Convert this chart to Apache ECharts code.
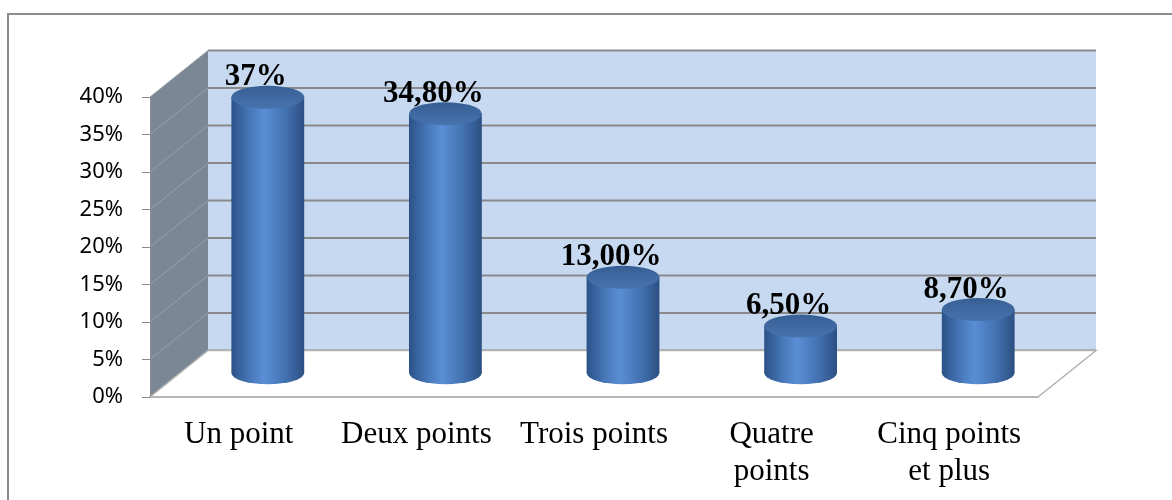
<!DOCTYPE html>
<html>
<head>
<meta charset="utf-8">
<script src="https://cdn.jsdelivr.net/npm/echarts@6/dist/echarts.min.js"></script>
<style>
  html, body { margin: 0; padding: 0; background: #fff; }
  #mainChart { width: 1172px; height: 500px; }
</style>
</head>
<body>
<div id="mainChart"></div>
<script>
// données
var categories = ['Un point', 'Deux points', 'Trois points', 'Quatre\npoints', 'Cinq points\net plus'];
var values = [37, 34.8, 13, 6.5, 8.7];
var valueLabels = ['37%', '34,80%', '13,00%', '6,50%', '8,70%'];
var yTicks = [0, 5, 10, 15, 20, 25, 30, 35, 40];

// profondeur de l'effet 3D
var DX = 58, DY = -46.5;

var chartDom = document.getElementById('mainChart');
var myChart = echarts.init(chartDom);

function renderWalls(params, api) {
    var cs = params.coordSys;
    var x0 = cs.x, x1 = cs.x + cs.width;
    var y0 = api.coord([0, 0])[1];
    var yTop = api.coord([0, yTicks[yTicks.length - 1]])[1];
    var children = [];
    // paroi latérale
    children.push({
        type: 'polygon',
        shape: { points: [[x0, y0], [x0, yTop], [x0 + DX, yTop + DY], [x0 + DX, y0 + DY]] },
        style: { fill: '#7b8795' }
    });
    // paroi du fond
    children.push({
        type: 'rect',
        shape: { x: x0 + DX, y: yTop + DY, width: cs.width, height: y0 - yTop },
        style: { fill: '#c6d9f1' }
    });
    yTicks.forEach(function (v) {
        var y = api.coord([0, v])[1];
        children.push({
            type: 'line',
            shape: { x1: x0, y1: y, x2: x0 + DX, y2: y + DY },
            style: { stroke: '#97a1ab', lineWidth: 1 }
        });
        children.push({
            type: 'line',
            shape: { x1: x0 + DX, y1: y + DY, x2: x1 + DX, y2: y + DY },
            style: { stroke: '#898989', lineWidth: 2 }
        });
    });
    // sol
    children.push({
        type: 'polygon',
        shape: { points: [[x0, y0], [x1, y0], [x1 + DX, y0 + DY], [x0 + DX, y0 + DY]] },
        style: { fill: '#ffffff', stroke: '#b3b3b3', lineWidth: 1.5 }
    });
    return { type: 'group', children: children };
}

var bodyGrad = new echarts.graphic.LinearGradient(0, 0, 1, 0, [
    { offset: 0, color: '#2b5287' },
    { offset: 0.25, color: '#4677b8' },
    { offset: 0.45, color: '#5a8ed5' },
    { offset: 0.75, color: '#4271b0' },
    { offset: 1, color: '#2c4f82' }
]);
var topGrad = new echarts.graphic.LinearGradient(0, 0, 0, 1, [
    { offset: 0, color: '#365f94' },
    { offset: 1, color: '#4773ad' }
]);

function renderCylinder(params, api) {
    var idx = api.value(0);
    var val = api.value(1);
    var base = api.coord([idx, 0]);
    var top = api.coord([idx, val]);
    var band = api.size([1, 0])[0];
    var cx = base[0] + DX / 2;
    var yb = base[1] + DY / 2;
    var yt = top[1] + DY / 2 + 1;
    var rx = band * 0.205;
    var ry = 11.5;
    return {
        type: 'group',
        children: [
            {
                type: 'circle',
                shape: { cx: 0, cy: 0, r: rx },
                x: cx, y: yb - 1, scaleY: ry / rx,
                style: { fill: bodyGrad }
            },
            {
                type: 'rect',
                shape: { x: cx - rx, y: yt, width: rx * 2, height: yb - 1 - yt },
                style: { fill: bodyGrad }
            },
            {
                type: 'circle',
                shape: { cx: 0, cy: 0, r: rx },
                x: cx, y: yt, scaleY: ry / rx,
                style: { fill: topGrad }
            },
            {
                type: 'text',
                style: {
                    text: valueLabels[idx],
                    x: cx - 12, y: yt - ry + 7,
                    align: 'center', verticalAlign: 'bottom',
                    fontFamily: 'Liberation Serif', fontWeight: 'bold', fontSize: 31,
                    fill: '#000'
                }
            }
        ]
    };
}

var option = {
    animation: false,
    graphic: [{
        type: 'rect',
        shape: { x: 8, y: 14, width: 1300, height: 700 },
        style: { fill: 'none', stroke: '#8c8c8c', lineWidth: 2 },
        z: 0
    }],
    grid: { left: 150, right: 134, top: 97, bottom: 103 },
    xAxis: {
        type: 'category',
        data: categories,
        axisLine: { lineStyle: { color: '#b3b3b3', width: 1.5 } },
        axisTick: { length: 8, lineStyle: { color: '#8c8c8c' } },
        axisLabel: {
            margin: 19, color: '#000', fontFamily: 'Liberation Serif',
            fontSize: 31, lineHeight: 37, interval: 0
        },
        z: 5
    },
    yAxis: {
        type: 'value',
        min: 0, max: 40, interval: 5,
        axisLine: { show: true, lineStyle: { color: '#8c8c8c' } },
        axisTick: { show: true, length: 8, lineStyle: { color: '#8c8c8c' } },
        splitLine: { show: false },
        axisLabel: {
            formatter: '{value}%', margin: 27, color: '#000',
            fontFamily: 'Noto Sans', fontSize: 22
        },
        z: 5
    },
    series: [
        {
            type: 'custom',
            renderItem: renderWalls,
            data: [[0, 0]],
            silent: true,
            z: 1
        },
        {
            type: 'custom',
            renderItem: renderCylinder,
            data: values.map(function (v, i) { return [i, v]; }),
            encode: { x: 0, y: 1 },
            silent: true,
            z: 3
        }
    ]
};

myChart.setOption(option);
</script>
</body>
</html>
